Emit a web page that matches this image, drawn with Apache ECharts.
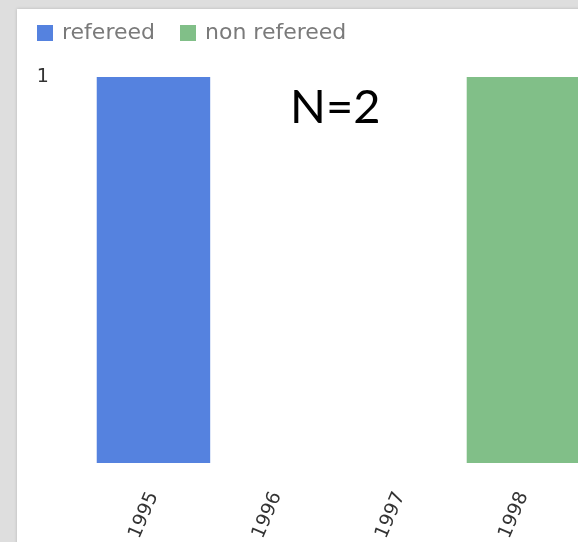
<!DOCTYPE html>
<html>
<head>
<meta charset="utf-8">
<script src="https://cdn.jsdelivr.net/npm/echarts@6/dist/echarts.min.js"></script>
<style>
  html, body { margin: 0; padding: 0; background: #dedede; overflow: hidden; width: 578px; height: 542px; }
  #panel { position: absolute; left: 17px; top: 9px; width: 620px; height: 600px; background: #ffffff; box-shadow: 0 0 3px rgba(0,0,0,0.18); }
  #chart { position: absolute; left: 0; top: 0; width: 620px; height: 560px; }
</style>
</head>
<body>
<div id="panel"></div>
<div id="chart"></div>
<script>
const categories = ['1995', '1996', '1997', '1998'];
const refereed = [1, 0, 0, 0];
const nonRefereed = [0, 0, 0, 1];
const yTicks = [0, 1];

const chart = echarts.init(document.getElementById('chart'), null, { renderer: 'canvas' });
chart.setOption({
  animation: false,
  legend: {
    left: 32, top: 17,
    itemWidth: 16, itemHeight: 16, itemGap: 25,
    icon: 'rect',
    textStyle: { fontFamily: 'DejaVu Sans', fontSize: 22, color: '#7a7a7a', padding: [0, 0, 0, 4] },
    data: ['refereed', 'non refereed']
  },
  grid: { left: 91.8, top: 77, width: 493.3, height: 386, containLabel: false },
  xAxis: {
    type: 'category',
    data: categories,
    axisLine: { show: false },
    axisTick: { show: false },
    axisLabel: { rotate: 67, margin: 30, fontFamily: 'DejaVu Sans', fontSize: 19, color: '#333' }
  },
  yAxis: {
    type: 'value',
    min: yTicks[0], max: yTicks[yTicks.length - 1], interval: 1,
    splitLine: { show: false },
    axisLine: { show: false },
    axisTick: { show: false },
    axisLabel: { showMinLabel: false, margin: 43, fontFamily: 'DejaVu Sans', fontSize: 19, color: '#333', verticalAlign: 'middle' }
  },
  series: [
    { name: 'refereed', type: 'bar', stack: 'all', data: refereed, barCategoryGap: '8%', itemStyle: { color: '#5582df' } },
    { name: 'non refereed', type: 'bar', stack: 'all', data: nonRefereed, barCategoryGap: '8%', itemStyle: { color: '#81bf88' } }
  ],
  graphic: [
    { type: 'text', left: 290, top: 84, style: { text: 'N=2', fontFamily: 'Lato', fontSize: 47, fill: '#000' } }
  ]
});
</script>
</body>
</html>
